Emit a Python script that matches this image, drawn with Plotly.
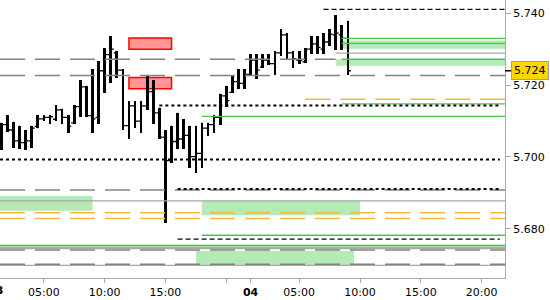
import plotly.graph_objects as go

# ---- price bars (30-minute bars, x = bar index) ----
bar_idx = list(range(58))
opens = [5.7030, 5.7090, 5.7075, 5.7045, 5.7040, 5.7045, 5.7085, 5.7106, 5.7110, 5.7105,
         5.7131, 5.7110, 5.7095, 5.7140, 5.7195, 5.7115, 5.7110, 5.7240, 5.7285, 5.7290,
         5.7242, 5.7087, 5.7142, 5.7100, 5.7142, 5.7182, 5.7123, 5.7055, 5.6990, 5.7043,
         5.7050, 5.7060, 5.7001, 5.7010, 5.7080, 5.7090, 5.7110, 5.7170, 5.7180, 5.7210,
         5.7205, 5.7230, 5.7270, 5.7250, 5.7270, 5.7260, 5.7290, 5.7340, 5.7290, 5.7270,
         5.7265, 5.7300, 5.7315, 5.7300, 5.7320, 5.7340, 5.7340, 5.7330]
highs = [5.7095, 5.7117, 5.7098, 5.7087, 5.7075, 5.7087, 5.7117, 5.7117, 5.7117, 5.7145,
         5.7134, 5.7117, 5.7145, 5.7214, 5.7198, 5.7245, 5.7267, 5.7303, 5.7337, 5.7295,
         5.7245, 5.7156, 5.7156, 5.7156, 5.7226, 5.7214, 5.7137, 5.7075, 5.7087, 5.7123,
         5.7106, 5.7087, 5.7087, 5.7095, 5.7095, 5.7117, 5.7176, 5.7198, 5.7226, 5.7245,
         5.7245, 5.7287, 5.7287, 5.7287, 5.7287, 5.7295, 5.7356, 5.7345, 5.7295, 5.7295,
         5.7303, 5.7337, 5.7337, 5.7345, 5.7356, 5.7395, 5.7367, 5.7379]
lows = [5.7020, 5.7070, 5.7025, 5.7022, 5.7020, 5.7025, 5.7080, 5.7100, 5.7092, 5.7100,
        5.7092, 5.7067, 5.7092, 5.7112, 5.7112, 5.7067, 5.7092, 5.7178, 5.7206, 5.7220,
        5.7075, 5.7050, 5.7081, 5.7067, 5.7131, 5.7092, 5.7050, 5.6817, 5.6984, 5.7023,
        5.7023, 5.6970, 5.6956, 5.6970, 5.7059, 5.7067, 5.7089, 5.7139, 5.7178, 5.7189,
        5.7189, 5.7228, 5.7217, 5.7248, 5.7256, 5.7228, 5.7281, 5.7273, 5.7248, 5.7259,
        5.7262, 5.7287, 5.7287, 5.7287, 5.7309, 5.7298, 5.7298, 5.7228]
closes = [5.7090, 5.7075, 5.7045, 5.7040, 5.7045, 5.7080, 5.7106, 5.7110, 5.7112, 5.7131,
          5.7110, 5.7085, 5.7140, 5.7195, 5.7115, 5.7106, 5.7240, 5.7285, 5.7300, 5.7242,
          5.7087, 5.7142, 5.7100, 5.7142, 5.7182, 5.7123, 5.7055, 5.6990, 5.7043, 5.7050,
          5.7060, 5.7001, 5.7010, 5.7080, 5.7090, 5.7110, 5.7170, 5.7157, 5.7210, 5.7205,
          5.7230, 5.7270, 5.7242, 5.7270, 5.7260, 5.7290, 5.7340, 5.7290, 5.7273, 5.7270,
          5.7300, 5.7315, 5.7305, 5.7320, 5.7342, 5.7345, 5.7330, 5.7240]

tick_pos = [7, 17, 27, 37, 41, 49, 59, 69, 79]
tick_text = ["05:00", "10:00", "15:00", "", "<b>04</b>", "05:00", "10:00", "15:00", "20:00"]
first_day_label = "<b>03</b>"
y_ticks = [5.680, 5.700, 5.720, 5.740]
last_price = 5.724

X_START, X_END = -0.214, 82.85
Y_MIN, Y_MAX = 5.6663, 5.7437

# ---- horizontal levels: (price, from bar, to bar) ----
gray_dashed = [(5.7272, X_START, 55), (5.7227, X_START, X_END), (5.6908, X_START, X_END),
               (5.6741, X_START, X_END), (5.6701, X_START, X_END)]
gray_solid = [(5.7289, 55, X_END), (5.6878, X_START, X_END), (5.6745, X_START, X_END),
              (5.6698, X_START, X_END)]
green_solid = [(5.7330, 56, X_END), (5.7316, 56, X_END), (5.7272, 56, X_END),
               (5.7148, 56, X_END), (5.7113, 33, X_END), (5.6782, 33, X_END),
               (5.6754, X_START, X_END), (5.6749, X_START, X_END)]
orange_dashed = [(5.7161, 50, X_END), (5.6845, X_START, X_END), (5.6829, X_START, X_END)]
black_dotted = [(5.7143, 26, 82), (5.6993, X_START, 82), (5.6911, 29, 82)]
black_dashed = [(5.7411, 53, X_END), (5.6771, 29, 82)]
# zones: (price low, price high, from bar, to bar)
green_zones = [(5.7301, 5.7324, 56, X_END), (5.7254, 5.7272, 55, X_END),
               (5.6850, 5.6891, X_START, 15), (5.6838, 5.6878, 33, 59),
               (5.6699, 5.6738, 32, 58)]
red_zones = [(5.7300, 5.7331, 21, 28), (5.7190, 5.7221, 21, 28)]

fig = go.Figure()

# range bodies
fig.add_trace(go.Bar(
    x=bar_idx, y=[h - l for h, l in zip(highs, lows)], base=lows,
    width=0.44, marker=dict(color="black", line=dict(width=0)),
    showlegend=False, hoverinfo="skip"))
# open / close ticks
fig.add_trace(go.Ohlc(
    x=bar_idx, open=opens, high=highs, low=lows, close=closes,
    increasing=dict(line=dict(color="black", width=1.3)),
    decreasing=dict(line=dict(color="black", width=1.3)),
    tickwidth=0.5, showlegend=False))

shapes = []
for lo, hi, a, b in green_zones:
    shapes.append(dict(type="rect", xref="x", yref="y", x0=a, x1=b, y0=lo, y1=hi,
                       fillcolor="rgb(180,234,180)", line=dict(width=0), layer="below"))
for lo, hi, a, b in red_zones:
    shapes.append(dict(type="rect", xref="x", yref="y", x0=a, x1=b, y0=lo, y1=hi,
                       fillcolor="rgb(255,150,150)", line=dict(color="rgb(255,0,0)", width=1.5),
                       layer="below"))

def seg(levels, color, width, dash):
    for p, a, b in levels:
        shapes.append(dict(type="line", xref="x", yref="y", x0=a, x1=b, y0=p, y1=p,
                           line=dict(color=color, width=width, dash=dash), layer="above"))

seg(gray_solid, "rgb(168,168,168)", 1.3, "solid")
seg(gray_dashed, "rgb(130,130,130)", 1.5, "25px,10px")
seg(orange_dashed, "rgb(246,184,60)", 1.5, "25px,10px")
seg(green_solid, "rgb(70,200,70)", 1.3, "solid")
seg(black_dotted, "black", 2, "3px,3px")
seg(black_dashed, "black", 1.3, "5px,3px")

# last price marker
shapes.append(dict(type="line", xref="paper", yref="y", x0=1, x1=1 + 7 / 505,
                   y0=last_price, y1=last_price, line=dict(color="black", width=1.5)))
fig.update_layout(shapes=shapes)

fig.add_annotation(x=1, xref="paper", y=last_price, yref="y", xanchor="left", xshift=6,
                   text=f"{last_price:.3f}", showarrow=False, bgcolor="rgb(252,214,0)",
                   bordercolor="rgb(160,160,160)", borderwidth=1, borderpad=2,
                   font=dict(family="DejaVu Sans", size=11, color="black"))
fig.add_annotation(x=-5 / 505, xref="paper", y=-12 / 278, yref="paper", xanchor="center",
                   yanchor="middle", text=first_day_label, showarrow=False,
                   font=dict(family="DejaVu Sans", size=11, color="black"))

fig.update_layout(
    width=550, height=300,
    margin=dict(l=0, r=45, t=0, b=22, pad=0),
    paper_bgcolor="white", plot_bgcolor="white",
    showlegend=False, bargap=0,
    xaxis=dict(range=[X_START, X_END], tickmode="array", tickvals=tick_pos, ticktext=tick_text,
               showgrid=False, zeroline=False, showline=True, linecolor="rgb(170,170,170)",
               linewidth=1, ticks="outside", ticklen=4, tickcolor="rgb(170,170,170)",
               tickfont=dict(family="DejaVu Sans", size=11, color="black"),
               rangeslider=dict(visible=False), fixedrange=True),
    yaxis=dict(range=[Y_MIN, Y_MAX], side="right", tickmode="array", tickvals=y_ticks,
               tickformat=".3f", showgrid=False, zeroline=False, showline=True,
               linecolor="rgb(170,170,170)", linewidth=1, ticks="outside", ticklen=5,
               tickcolor="rgb(170,170,170)",
               tickfont=dict(family="DejaVu Sans", size=11, color="black"), fixedrange=True),
)

fig.write_html("out.html")
